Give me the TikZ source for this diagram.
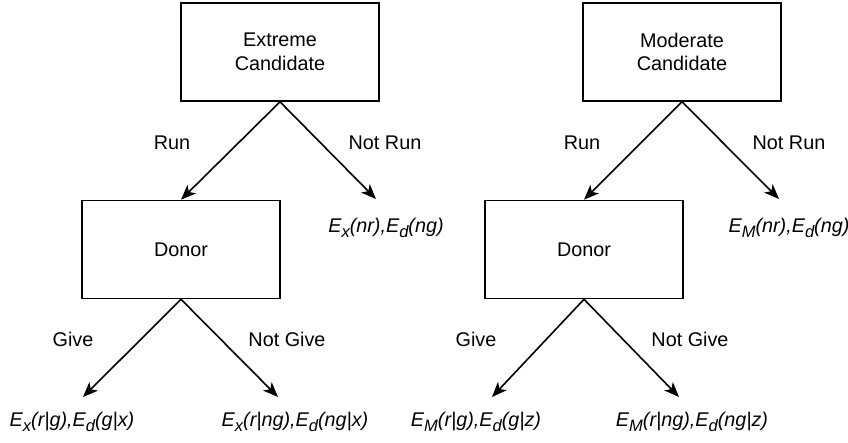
\documentclass[tikz,border=0pt]{standalone}
\usepackage{fontspec}
\setmainfont{Liberation Sans}
\usetikzlibrary{arrows.meta}

% lowered, smaller index in the payoff labels
\newcommand{\lowidx}[1]{\raisebox{-5pt}{\fontsize{16.5}{16.5}\selectfont #1}}

\begin{document}
\begin{tikzpicture}[x=1pt,y=-1pt,
  font=\fontsize{19.8}{23.8}\selectfont,
  box/.style={draw, line width=1.6pt, minimum width=198pt, minimum height=98pt,
              align=center, inner sep=0pt},
  lbl/.style={inner sep=0pt, anchor=center},
  payoff/.style={inner sep=0pt, anchor=center, font=\fontsize{19.8}{23.8}\selectfont\itshape},
  branch/.style={line width=1.6pt, -{Stealth[length=15pt,width=12pt,inset=4pt]}}]
\useasboundingbox (0,0) rectangle (848,442);

% ---- extreme candidate tree ----
\node[box] (ext) at (280,52) {Extreme\\Candidate};
\node[box] (donX) at (181,249.5) {Donor};
\coordinate (nrX) at (376,199);
\coordinate (gX) at (83,397);
\coordinate (ngX) at (278,397);

\draw[branch] (ext.south) -- (donX.north);
\draw[branch] (ext.south) -- (nrX);
\draw[branch] (donX.south) -- (gX);
\draw[branch] (donX.south) -- (ngX);

\node[lbl] (runX) at (172,143) {Run};
\node[lbl] (notrunX) at (385,143) {Not Run};
\node[lbl] (giveX) at (73,339) {Give};
\node[lbl] (notgiveX) at (287,339) {Not Give};

\node[payoff] (pnrX) at (386,228) {E\lowidx{x}(nr),E\lowidx{d}(ng)};
\node[payoff] (pgX) at (72,422) {E\lowidx{x}(r|g),E\lowidx{d}(g|x)};
\node[payoff] (pngX) at (295,422) {E\lowidx{x}(r|ng),E\lowidx{d}(ng|x)};

% ---- moderate candidate tree ----
\node[box] (mod) at (682,52) {Moderate\\Candidate};
\node[box] (donM) at (584,249.5) {Donor};
\coordinate (nrM) at (779,199);
\coordinate (gM) at (492,397);
\coordinate (ngM) at (679,397);

\draw[branch] (mod.south) -- (donM.north);
\draw[branch] (mod.south) -- (nrM);
\draw[branch] (donM.south) -- (gM);
\draw[branch] (donM.south) -- (ngM);

\node[lbl] (runM) at (582,143) {Run};
\node[lbl] (notrunM) at (789,143) {Not Run};
\node[lbl] (giveM) at (476,339) {Give};
\node[lbl] (notgiveM) at (690,339) {Not Give};

\node[payoff] (pnrM) at (789,228) {E\lowidx{M}(nr),E\lowidx{d}(ng)};
\node[payoff] (pgM) at (476,422) {E\lowidx{M}(r|g),E\lowidx{d}(g|z)};
\node[payoff] (pngM) at (692,422) {E\lowidx{M}(r|ng),E\lowidx{d}(ng|z)};
\end{tikzpicture}
\end{document}
